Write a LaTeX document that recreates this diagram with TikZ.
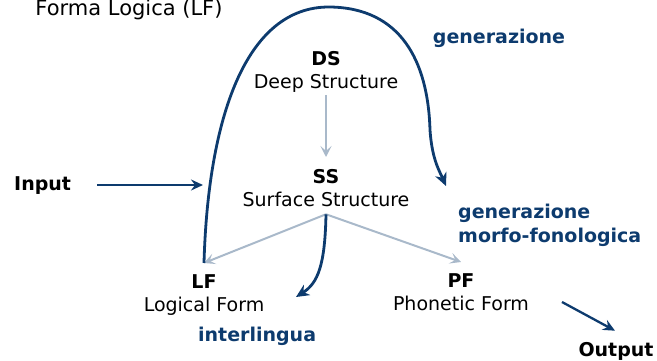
\documentclass[tikz,border=0pt]{standalone}
\usepackage{fontspec}
\setmainfont{DejaVu Sans}
\usetikzlibrary{arrows.meta,calc}
\definecolor{navy}{HTML}{0D3B6E}
\definecolor{lgray}{HTML}{A9B9CA}
\tikzset{
  concept/.style={align=center, inner sep=0pt, anchor=north, font=\fontsize{19}{23.5}\selectfont},
  plainlbl/.style={inner sep=0pt, font=\fontsize{19}{23.5}\selectfont},
  navylbl/.style={inner sep=0pt, text=navy, font=\bfseries\fontsize{19}{23.5}\selectfont},
  navyline/.style={draw=navy, line width=2.8pt},
  navyarrow/.style={navyline, -{Stealth[length=13pt,width=12pt,inset=4pt]}},
  thinnavy/.style={draw=navy, line width=2.3pt, -{Stealth[length=12pt,width=11pt,inset=4pt]}},
  grayarrow/.style={draw=lgray, line width=2pt, -{Stealth[length=11pt,width=11pt,inset=5pt]}}
}
\begin{document}
\begin{tikzpicture}[x=1pt,y=-1pt]
\useasboundingbox (0,0) rectangle (657,361);
% concept nodes
\node[concept] (ds) at (326,51) {\textbf{DS}\\Deep Structure};
\node[concept] (ss) at (326,169) {\textbf{SS}\\Surface Structure};
\node[concept] (lf) at (204,274) {\textbf{LF}\\Logical Form};
\node[concept] (pf) at (461,273) {\textbf{PF}\\Phonetic Form};
% labels
\node[plainlbl, anchor=base, font=\fontsize{21}{25}\selectfont] (forma) at (129,15.5) {Forma Logica (LF)};
\node[plainlbl, anchor=base west] (input) at (14,190) {\textbf{Input}};
\node[plainlbl, anchor=base] (output) at (616,356) {\textbf{Output}};
\node[navylbl, anchor=base] (gen) at (499,44) {generazione};
\node[navylbl, anchor=north west, align=left] (genmf) at (458,204) {generazione\\morfo-fonologica};
\node[navylbl, anchor=base west] (inter) at (198,341) {interlingua};
% gray arrows
\draw[grayarrow] ([yshift=-2pt]ds.south) -- ([yshift=12pt]ss.north);
\draw[grayarrow] ([yshift=-7pt]ss.south) -- ([yshift=11pt]lf.north);
\draw[grayarrow] ([yshift=-7pt]ss.south) -- ([yshift=11pt]pf.north);
% navy curves
\draw[navyarrow] ([yshift=11pt]lf.north) .. controls (208,120) and (245,6) .. (330,7)
  .. controls (400,8) and (428,60) .. (430,130)
  .. controls (432,160) and (440,172) .. (446,186);
\draw[navyarrow] ([yshift=-7pt]ss.south) .. controls (325,265) and (318,283) .. (296,297);
% input / output arrows
\coordinate (inend) at (203,185);
\coordinate (instart) at ($(input.east)+(26,0)$);
\coordinate (outstart) at (562,302);
\draw[thinnavy] (instart |- inend) -- (inend);
\draw[thinnavy] (outstart) -- ([xshift=-1pt,yshift=11pt]output.north);
\end{tikzpicture}
\end{document}
